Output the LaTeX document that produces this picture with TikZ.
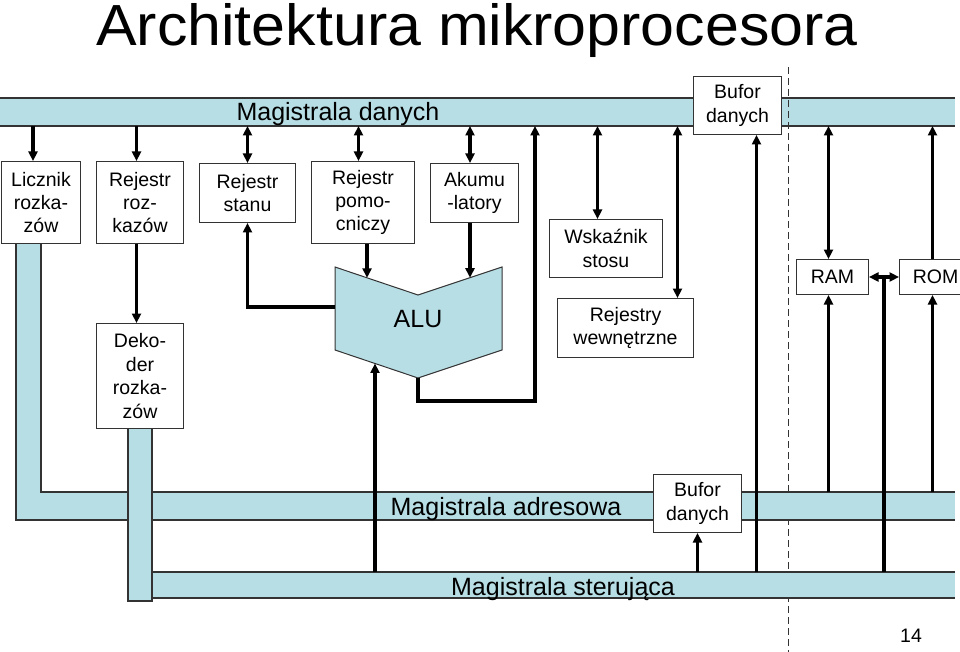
\documentclass[tikz,border=0pt]{standalone}
\usepackage{fontspec}
\setmainfont{Liberation Sans}
\usetikzlibrary{arrows.meta,positioning}

\definecolor{busblue}{RGB}{183,222,228}

\begin{document}
\begin{tikzpicture}[x=1pt, y=-1pt, >={Triangle[length=9.5pt,width=9pt]},
  box/.style={draw=black!80, line width=1pt, fill=white, inner sep=0pt, anchor=north west,
    align=center, font=\fontsize{19.5}{23.4}\selectfont},
  busrect/.style={fill=busblue, inner sep=0pt, outer sep=0pt, anchor=north west},
  busline/.style={draw=black!80, line width=1.2pt},
  arr/.style={line width=3.3pt},
  buslabel/.style={font=\fontsize{25}{30}\selectfont, anchor=base}]
\useasboundingbox (0,0) rectangle (960,652);

% Title
\node[font=\fontsize{58}{66}\selectfont, anchor=base, xscale=1.05] (title) at (477,46) {Architektura mikroprocesora};

% Data bus
\node[busrect, minimum width=955pt, minimum height=28pt] (busd) at (0,98) {};
\draw[busline] (busd.north west) -- (busd.north east) (busd.south west) -- (busd.south east);

% Chip boundary (dashed)
\draw[black!80, line width=1pt, dash pattern=on 7pt off 4pt] (788,67) -- (788,652);

% Address bus with the program counter leg
\node[busrect, minimum width=914pt, minimum height=28pt] (busa) at (41,492) {};
\node[busrect, minimum width=25pt, minimum height=277pt] (barl) at (16,243) {};
\draw[busline] (busa.north east) -- (busa.north west) -- (barl.north east) -- (barl.north west)
  -- (barl.south west) -- (busa.south east);

% Control bus with the decoder leg
\node[busrect, minimum width=803pt, minimum height=26pt] (busc) at (152,572) {};
\draw[busline] (busc.north west) -- (busc.north east) (busc.south west) -- (busc.south east);
\node[busrect, draw=black!80, line width=1.2pt, minimum width=24pt, minimum height=175pt] (bard) at (128,426) {};

% Bus labels
\node[buslabel] (labd) at (338,121) {Magistrala danych};
\node[buslabel] (laba) at (506,515) {Magistrala adresowa};
\node[buslabel] (labc) at (563,595) {Magistrala sterująca};

% Registers and buffers
\node[box, minimum width=79pt, minimum height=82pt] (licznik) at (1,161) {Licznik\\rozka-\\zów};
\node[box, minimum width=87pt, minimum height=82pt] (rozkazow) at (96,161) {Rejestr\\roz-\\kazów};
\node[box, minimum width=96pt, minimum height=59pt] (stanu) at (199,163) {Rejestr\\stanu};
\node[box, minimum width=103pt, minimum height=82pt] (pomocniczy) at (311,161) {Rejestr\\pomo-\\cniczy};
\node[box, minimum width=88pt, minimum height=59pt] (akumulatory) at (430,163) {Akumu\\-latory};
\node[box, minimum width=113pt, minimum height=58pt] (wskaznik) at (549,219) {Wskaźnik\\stosu};
\node[box, minimum width=136pt, minimum height=59pt] (wewnetrzne) at (557,298) {Rejestry\\wewnętrzne};
\node[box, minimum width=88pt, minimum height=58pt] (bufortop) at (693,76) {Bufor\\danych};
\node[box, minimum width=72pt, minimum height=35pt] (ram) at (796,259) {RAM};
\node[box, minimum width=72pt, minimum height=35pt] (rom) at (899,259) {ROM};
\node[box, minimum width=87pt, minimum height=105pt] (dekoder) at (96,323) {Deko-\\der\\rozka-\\zów};
\node[box, minimum width=88pt, minimum height=58pt] (buforbot) at (653,474) {Bufor\\danych};

% ALU
\coordinate (alunw) at (335,267);
\coordinate (alun) at (418,295);
\coordinate (alune) at (502,267);
\coordinate (alusee) at (502,350);
\coordinate (alus) at (418,378);
\coordinate (alusw) at (335,350);
\coordinate (aluw) at (335,307);
\filldraw[fill=busblue, draw=black!80, line width=1pt] (alunw) -- (alun) -- (alune) -- (alusee)
  -- (alus) -- (alusw) -- cycle;
\node[font=\fontsize{25}{30}\selectfont, anchor=base] (alu) at (418,327) {ALU};
\path (alunw) -- (alun) coordinate[pos=0.386] (alupom);
\path (alun) -- (alune) coordinate[pos=0.619] (aluaku);
\path (alusw) -- (alus) coordinate[pos=0.482] (alusterin);
\coordinate (aluloop) at (535,401);

% Data bus connections
\draw[arr,->] ([xshift=-8pt]licznik.north |- busd.south) -- ([xshift=-8pt]licznik.north);
\draw[arr,->] ([xshift=-3.5pt]rozkazow.north |- busd.south) -- ([xshift=-3.5pt]rozkazow.north);
\draw[arr,->] ([xshift=-3.5pt]rozkazow.south) -- ([xshift=-3.5pt]rozkazow.south |- dekoder.north);
\draw[arr,<->] (stanu.north |- busd.south) -- (stanu.north);
\draw[arr,<->] ([xshift=-4.5pt]pomocniczy.north |- busd.south) -- ([xshift=-4.5pt]pomocniczy.north);
\draw[arr,<->] (aluaku |- busd.south) -- (aluaku |- akumulatory.north);
\draw[arr,<->] ([xshift=-8.5pt]wskaznik.north |- busd.south) -- ([xshift=-8.5pt]wskaznik.north);
\draw[arr,<->] ([xshift=52pt]wewnetrzne.north |- busd.south) -- ([xshift=52pt]wewnetrzne.north);

% ALU connections
\draw[arr,->] (pomocniczy.south -| alupom) -- (alupom);
\draw[arr,->] (akumulatory.south -| aluaku) -- (aluaku);
\draw[arr,->] (alusterin |- busc.north) -- (alusterin);
\draw[arr,->] (aluw) -| (stanu.south);
\draw[arr,->] (alus) |- (aluloop) -- (aluloop |- busd.south);

% Control lines and memory
\draw[arr,->] ([xshift=19pt]bufortop.south |- busc.north) -- ([xshift=19pt]bufortop.south);
\draw[arr,->] (buforbot.south |- busc.north) -- (buforbot.south);
\draw[arr,<->] ([xshift=-4pt]ram.north |- busd.south) -- ([xshift=-4pt]ram.north);
\draw[arr,->] ([xshift=-4pt]ram.south |- busa.north) -- ([xshift=-4pt]ram.south);
\draw[arr,->] ([xshift=-3pt]rom.north) -- ([xshift=-3pt]rom.north |- busd.south);
\draw[arr,->] ([xshift=-3pt]rom.south |- busa.north) -- ([xshift=-3pt]rom.south);
\path (ram.east) -- (rom.west) coordinate[midway] (rammid);
\draw[arr,<->] (ram.east) -- (rom.west);
\draw[arr] (rammid) -- (rammid |- busc.north);

% Page number
\node[font=\fontsize{19.5}{23.4}\selectfont, anchor=base] (page) at (911,642) {14};
\end{tikzpicture}
\end{document}
